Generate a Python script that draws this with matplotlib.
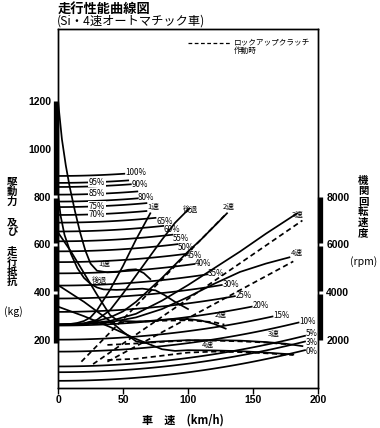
import matplotlib
matplotlib.use("Agg")
import matplotlib.pyplot as plt
import matplotlib.transforms as mtransforms
import numpy as np

plt.rcParams['font.family'] = ['Noto Sans CJK JP', 'DejaVu Sans']

W, H = 380, 428

# ---------------- data ----------------
# grade resistance lines: grade %, resistance at 0 km/h (kg), end speed (km/h), label speed (None = at end)
grades = [100, 95, 90, 85, 80, 75, 70, 65, 60, 55, 50, 45, 40, 35, 30, 25, 20, 15, 10, 5, 3, 0]
grade_r0 = [886, 857, 840, 808, 779, 756, 723, 691, 654, 613, 571, 526, 479, 428, 374, 318, 261, 202, 152, 90, 66, 30]
grade_end = [51, 54, 56, 61, 61, 68, 68, 75, 81, 88, 92, 98, 105, 115, 126, 136, 149, 165, 185, 190, 190, 190]
grade_mid = [None, 30, None, 30, None, 30, 30, None, None, None, None, None, None, None, None, None, None, None, None, None, None, None]
grade_lab_dy = [4, 0, 0, 0, 4, 0, 0, -16, -16, -14, -14, -8, 0, 4, 4, 4, 4, 4, 4, 8, -3, -4]
aero_k = 0.00355   # kg per (km/h)^2, read from the 0% curve rise

# driving force (kg), torque converter = solid
f1_v = [0, 3, 6, 9, 13, 17, 21, 25, 30, 38, 46, 54, 60, 66, 71]
f1_kg = [1200, 1040, 930, 840, 740, 650, 575, 520, 490, 483, 485, 494, 496, 480, 455]
fr_v = [0, 2, 5, 10, 15, 20, 25, 30, 35, 45, 55, 65, 75, 82, 90, 100]
fr_kg = [810, 720, 640, 560, 500, 460, 435, 420, 412, 410, 412, 415, 408, 388, 360, 330]
f2_v = [0, 10, 20, 30, 40, 45, 50, 60, 70, 80, 90, 100, 110, 120, 129]
f2_kg = [650, 570, 480, 390, 305, 285, 280, 278, 280, 285, 288, 288, 282, 268, 248]
f3_v = [0, 10, 20, 30, 40, 50, 60, 65, 80, 100, 120, 140, 160, 175, 188]
f3_kg = [430, 395, 360, 320, 280, 235, 195, 190, 195, 200, 200, 198, 192, 185, 175]
f4_v = [0, 20, 40, 60, 80, 90, 100, 120, 140, 160, 181]
f4_kg = [340, 300, 255, 205, 162, 155, 158, 157, 154, 148, 140]

# driving force with lock-up clutch = dashed
l2_v = [20, 40, 60, 80, 100, 120, 128]
l2_kg = [266, 272, 276, 281, 283, 275, 265]
l3_v = [38, 60, 80, 100, 120, 140, 160, 178]
l3_kg = [180, 186, 193, 198, 198, 195, 190, 182]
l4_v = [38, 60, 80, 100, 120, 140, 160, 181]
l4_kg = [117, 122, 135, 148, 152, 150, 145, 138]

# engine speed (rpm), torque converter = solid
s1_v = [0, 5, 10, 15, 20, 25, 30, 40, 50, 60, 71]
s1_rpm = [2650, 2660, 2680, 2720, 2800, 2950, 3250, 4100, 5100, 6200, 7300]
sr_v = [0, 10, 20, 30, 40, 50, 60, 70, 80, 90, 101]
sr_rpm = [2650, 2660, 2700, 2850, 3250, 3950, 4700, 5450, 6200, 6900, 7500]
s2_v = [0, 10, 20, 30, 40, 50, 60, 70, 80, 90, 100, 110, 120, 130]
s2_rpm = [2650, 2660, 2700, 2800, 2950, 3200, 3600, 4100, 4600, 5150, 5700, 6200, 6750, 7300]
s3_v = [0, 20, 40, 60, 80, 100, 120, 140, 160, 184]
s3_rpm = [2650, 2680, 2800, 3100, 3650, 4300, 5000, 5700, 6450, 7300]
s4_v = [0, 20, 40, 60, 80, 100, 120, 140, 160, 178]
s4_rpm = [2650, 2670, 2750, 2950, 3300, 3800, 4350, 4850, 5200, 5460]

# engine speed with lock-up = dashed
lr2_v = [18, 128]
lr2_rpm = [1100, 7200]
lr3_v = [27, 188]
lr3_rpm = [1000, 7000]
lr4_v = [38, 181]
lr4_rpm = [1100, 5290]

# gear label anchors (km/h, rpm) for the engine speed lines and (km/h, kg) for driving force
rpm_labels = ['1速', '後退', '2速', '3速', '4速']
rpm_label_v = [73, 102, 131, 184, 184]
rpm_label_n = [7550, 7450, 7550, 7250, 5650]
force_labels = ['1速', '後退', '2速', '3速', '4速']
force_label_v = [36, 32, 125, 166, 115]
force_label_kg = [500, 432, 290, 210, 165]

kg_ticks = [200, 400, 600, 800, 1000, 1200]
rpm_ticks = [2000, 4000, 6000, 8000]
speed_ticks = [0, 50, 100, 150, 200]

# ---------------- figure ----------------
fig = plt.figure(figsize=(W / 100, H / 100), dpi=100)
ax = fig.add_axes([58 / W, 1 - 388 / H, 260 / W, 359 / H])
ax.set_xlim(0, 200)
ax.set_ylim(0, 1500)
ax2 = ax.twinx()
ax2.set_ylim(0, 15000)

lw = 1.25
for g, r0, vend, vmid, dy in zip(grades, grade_r0, grade_end, grade_mid, grade_lab_dy):
    v = np.linspace(0, vend, 40)
    r = r0 + aero_k * v ** 2
    ax.plot(v, r, color='black', lw=lw)
    if vmid is None:
        ax.text(vend + 0.5, r[-1] + dy, f'{g}%', fontsize=5.8, va='center', ha='left')
    else:
        ax.text(vmid, r0 + aero_k * vmid ** 2, f'{g}%', fontsize=5.8, va='center', ha='center',
                bbox=dict(fc='white', ec='none', pad=0.3))

for v, f in [(f1_v, f1_kg), (fr_v, fr_kg), (f2_v, f2_kg), (f3_v, f3_kg), (f4_v, f4_kg)]:
    ax.plot(v, f, color='black', lw=lw)
for v, f in [(l2_v, l2_kg), (l3_v, l3_kg), (l4_v, l4_kg)]:
    ax.plot(v, f, color='black', lw=lw, ls=(0, (3, 2)))

for v, n in [(s1_v, s1_rpm), (sr_v, sr_rpm), (s2_v, s2_rpm), (s3_v, s3_rpm), (s4_v, s4_rpm)]:
    ax2.plot(v, n, color='black', lw=lw)
for v, n in [(lr2_v, lr2_rpm), (lr3_v, lr3_rpm), (lr4_v, lr4_rpm)]:
    ax2.plot(v, n, color='black', lw=lw, ls=(0, (3, 2)))

# gear labels
for t, v, n in zip(rpm_labels, rpm_label_v, rpm_label_n):
    ax2.text(v, n, t, fontsize=5.5, ha='center', va='center')
for t, v, f in zip(force_labels, force_label_v, force_label_kg):
    ax.text(v, f, t, fontsize=5.5, ha='center', va='bottom')

# axes styling
for a in (ax, ax2):
    for s in a.spines.values():
        s.set_linewidth(1.0)
tick_font = dict(fontsize=7.5, family='Liberation Sans', fontweight='bold')
ax.set_xticks(speed_ticks)
ax.set_xticklabels([str(t) for t in speed_ticks], **tick_font)
ax.tick_params(axis='x', direction='out', length=4, width=1, pad=1)
ax.set_yticks(kg_ticks)
ax.set_yticklabels([str(t) for t in kg_ticks], **tick_font)
ax.tick_params(axis='y', length=0, pad=5)
ax2.set_yticks(rpm_ticks)
ax2.set_yticklabels([str(t) for t in rpm_ticks], **tick_font)
ax2.tick_params(axis='y', length=0, pad=6)

# thick scale bars on the spines, broken at the ticks
gap = 6
trl = mtransforms.blended_transform_factory(ax.transAxes, ax.transData)
edges = [kg_ticks[0] - 10] + [t for t in kg_ticks[1:-1] if t <= 800] + [kg_ticks[-1]]
for lo, hi in zip(edges[:-1], edges[1:]):
    ax.plot([-0.008, -0.008], [lo + gap if lo in kg_ticks else lo, hi - gap if hi != kg_ticks[-1] else hi],
            transform=trl, color='black', lw=3.8, solid_capstyle='butt', clip_on=False)
trr = mtransforms.blended_transform_factory(ax2.transAxes, ax2.transData)
for lo, hi in zip(rpm_ticks[:-1], rpm_ticks[1:]):
    ax2.plot([1.009, 1.009], [lo + (gap * 10 if lo != rpm_ticks[0] else 0), hi - (gap * 10 if hi != rpm_ticks[-1] else 0)],
             transform=trr, color='black', lw=3.8, solid_capstyle='butt', clip_on=False)

# axis titles
fig.text(12 / W, 1 - 232 / H, '駆\n動\n力\n\n及\nび\n\n走\n行\n抵\n抗', fontsize=7.5,
         ha='center', va='center', linespacing=1.0, fontweight='bold')
fig.text(13 / W, 1 - 312 / H, '(kg)', fontsize=7.5, ha='center', va='center')
fig.text(363 / W, 1 - 207 / H, '機\n関\n回\n転\n速\n度', fontsize=7.5, ha='center', va='center',
         linespacing=1.05, fontweight='bold')
fig.text(364 / W, 1 - 262 / H, '(rpm)', fontsize=7.5, ha='center', va='center')
fig.text(183 / W, 1 - 420 / H, '車　速　(km/h)', fontsize=8, ha='center', va='center', fontweight='bold')

# title
fig.text(58 / W, 1 - 9 / H, '走行性能曲線図', fontsize=9.5, ha='left', va='center', fontweight='bold')
fig.text(57 / W, 1 - 21 / H, '(Si・4速オートマチック車)', fontsize=8.8, ha='left', va='center')

# legend
ax.plot([0.5, 0.66], [0.96, 0.96], transform=ax.transAxes, color='black', lw=0.9, ls=(0, (3, 2)))
ax.text(0.675, 0.962, 'ロックアップクラッチ', transform=ax.transAxes, fontsize=5.5, va='center', ha='left')
ax.text(0.675, 0.94, '作動時', transform=ax.transAxes, fontsize=5.5, va='center', ha='left')

fig.savefig('out.png', dpi=100)
